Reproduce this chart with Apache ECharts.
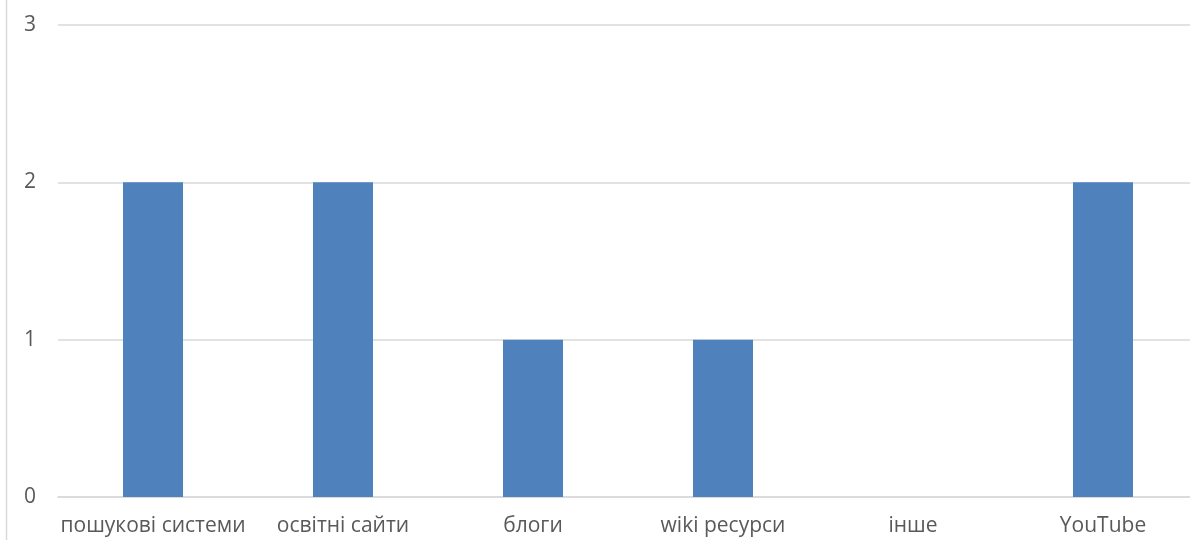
<!DOCTYPE html>
<html><head><meta charset="utf-8">
<script src="https://cdn.jsdelivr.net/npm/echarts@6/dist/echarts.min.js"></script>
<style>html,body{margin:0;padding:0;background:#fff}#c{width:1190px;height:540px}</style>
</head><body><div id="c"></div>
<script>
const categories = ['пошукові системи','освітні сайти','блоги','wiki ресурси','інше','YouTube'];
const values = [2, 2, 1, 1, 0, 2];
const yTicks = [0, 1, 2, 3];

const chart = echarts.init(document.getElementById('c'));
chart.setOption({
  animation: false,
  grid: {left: 58, width: 1140, top: 25, bottom: 43, outerBoundsMode: 'none', containLabel: false},
  graphic: [{type:'line', shape:{x1:6.5,y1:0,x2:6.5,y2:540}, style:{stroke:'#d9d9d9', lineWidth:1.5}}],
  xAxis: {
    type: 'category', data: categories,
    axisLine: {show: true, lineStyle: {color: '#d9d9d9', width: 1.5}},
    axisTick: {show: false},
    axisLabel: {color: '#595959', fontSize: 21, fontFamily: 'Open Sans', margin: 19, interval: 0}
  },
  yAxis: {
    type: 'value', min: yTicks[0], max: yTicks[yTicks.length-1], interval: 1,
    axisLine: {show: false}, axisTick: {show: false},
    splitLine: {lineStyle: {color: '#d9d9d9', width: 1.5}},
    axisLabel: {color: '#595959', fontSize: 21, fontFamily: 'Open Sans', margin: 22}
  },
  series: [{
    type: 'bar', data: values, barWidth: 60,
    itemStyle: {color: '#4f81bd'}
  }]
});
</script></body></html>
